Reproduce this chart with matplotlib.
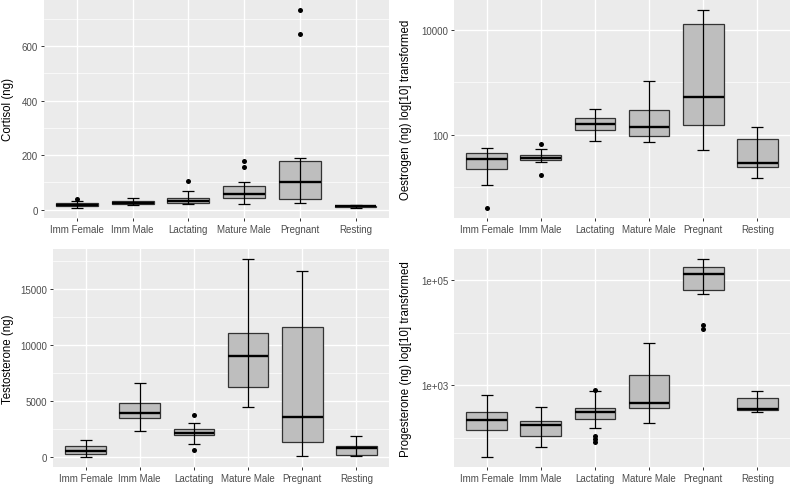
import numpy as np
import matplotlib
matplotlib.use("Agg")
import matplotlib.pyplot as plt
from matplotlib.ticker import FixedLocator, FixedFormatter

plt.rcParams['font.family'] = ['Liberation Sans', 'DejaVu Sans']

groups = ["Imm Female", "Imm Male", "Lactating", "Mature Male", "Pregnant", "Resting"]

# cortisol (ng)
cort_q1 = [13, 21, 24, 42, 40, 10]
cort_med = [19, 25, 32, 58, 101, 12]
cort_q3 = [25, 32, 43, 87, 177, 15]
cort_lo = [6, 18, 20, 20, 25, 8]
cort_hi = [31, 42, 67, 103, 190, 16]
cort_out = [[39], [], [105], [157, 178], [644, 733], []]

# oestrogen (ng), log axis
oest_q1 = [22, 32, 121, 92, 151, 24]
oest_med = [34, 36, 160, 138, 515, 28.5]
oest_q3 = [45, 41, 206, 294, 13000, 83]
oest_lo = [10.8, 30, 74.5, 71, 51, 15]
oest_hi = [55, 54, 316, 1045, 24600, 142]
oest_out = [[3.9], [16.8, 65], [], [], [], []]

# testosterone (ng)
test_q1 = [297, 3534, 1960, 6237, 1396, 208]
test_med = [594, 3980, 2198, 9058, 3594, 802]
test_q3 = [1010, 4871, 2495, 11048, 11553, 1010]
test_lo = [30, 2346, 1218, 4485, 150, 150]
test_hi = [1574, 6593, 3030, 17642, 16573, 1900]
test_out = [[], [], [653, 3802], [], [], []]

# progesterone (ng), log axis
prog_q1 = [140, 111, 230, 371, 63700, 335]
prog_med = [220, 174, 312, 462, 128000, 350]
prog_q3 = [312, 207, 371, 1570, 174000, 574]
prog_lo = [43.5, 68, 153, 193, 53400, 312]
prog_hi = [655, 393, 770, 6450, 250000, 793]
prog_out = [[], [], [805, 84, 95, 108], [], [11750, 14000], []]

BG = "#EBEBEB"


def draw_panel(ax, q1, med, q3, lo, hi, out, ylab, log,
               major, minor, labels, labx):
    x = np.arange(1, len(groups) + 1)
    q1, med, q3 = np.array(q1), np.array(med), np.array(q3)
    lo, hi = np.array(lo), np.array(hi)

    ax.set_facecolor(BG)
    if log:
        ax.set_yscale("log")
    ax.bar(x, q3 - q1, bottom=q1, width=0.75, color="#BEBEBE",
           edgecolor="#333333", linewidth=0.9, zorder=2)
    ax.hlines(med, x - 0.375, x + 0.375, color="black", linewidth=1.7, zorder=3)
    ax.errorbar(x, med, yerr=[med - lo, hi - med], fmt="none", ecolor="black",
                elinewidth=0.9, capsize=4.4, capthick=0.9, zorder=4)
    for xi, pts in zip(x, out):
        if pts:
            ax.plot([xi] * len(pts), pts, "o", color="black", markersize=3.6,
                    markeredgewidth=0, zorder=5)

    allv = list(lo) + list(hi) + [v for p in out for v in p]
    if log:
        a, b = np.log10(min(allv)), np.log10(max(allv))
        pad = (b - a) * 0.05
        ax.set_ylim(10 ** (a - pad), 10 ** (b + pad))
    else:
        a, b = min(allv), max(allv)
        pad = (b - a) * 0.05
        ax.set_ylim(a - pad, b + pad)
    ax.set_xlim(0.4, 6.6)

    ax.set_xticks(x)
    ax.set_xticklabels(groups)
    ax.yaxis.set_major_locator(FixedLocator(major))
    ax.yaxis.set_major_formatter(FixedFormatter(labels))
    ax.yaxis.set_minor_locator(FixedLocator(minor))
    ax.yaxis.set_minor_formatter(FixedFormatter([""] * len(minor)))

    ax.grid(True, which="major", color="white", linewidth=1.0, zorder=0)
    ax.grid(True, which="minor", axis="y", color="white", linewidth=0.5, zorder=0)
    ax.set_axisbelow(True)
    for s in ax.spines.values():
        s.set_visible(False)
    ax.tick_params(axis="both", which="major", length=2.2, width=0.7,
                   color="#333333", labelsize=7, labelcolor="#4D4D4D", pad=2)
    ax.tick_params(axis="y", which="minor", length=0)
    ax.set_ylabel(ylab, fontsize=8.3, color="black", va="center")
    ax.yaxis.set_label_coords(labx, 0.5)


fig = plt.figure(figsize=(7.92, 4.85), dpi=100)
W, H = 792.0, 485.0


def axes_px(l, r, t, b):
    return fig.add_axes([l / W, (H - b) / H, (r - l) / W, (b - t) / H])


ax1 = axes_px(43.5, 389, 1, 219)
ax2 = axes_px(454, 790, 1, 219)
ax3 = axes_px(53, 389, 250, 468)
ax4 = axes_px(454, 790, 250, 468)

# label centres sit about 7 px from each column's left edge
draw_panel(ax1, cort_q1, cort_med, cort_q3, cort_lo, cort_hi, cort_out,
           "Cortisol (ng)", False, [0, 200, 400, 600], [100, 300, 500, 700],
           ["0", "200", "400", "600"], (8 - 43.5) / 345.5)
draw_panel(ax2, oest_q1, oest_med, oest_q3, oest_lo, oest_hi, oest_out,
           "Oestrogen (ng) log[10] transformed", True, [100, 10000], [10, 1000],
           ["100", "10000"], (406 - 454) / 336.0)
draw_panel(ax3, test_q1, test_med, test_q3, test_lo, test_hi, test_out,
           "Testosterone (ng)", False, [0, 5000, 10000, 15000],
           [2500, 7500, 12500, 17500], ["0", "5000", "10000", "15000"],
           (8 - 53) / 336.0)
draw_panel(ax4, prog_q1, prog_med, prog_q3, prog_lo, prog_hi, prog_out,
           "Progesterone (ng) log[10] transformed", True, [1e3, 1e5], [1e2, 1e4],
           ["1e+03", "1e+05"], (406 - 454) / 336.0)

fig.savefig("out.png", dpi=100)
